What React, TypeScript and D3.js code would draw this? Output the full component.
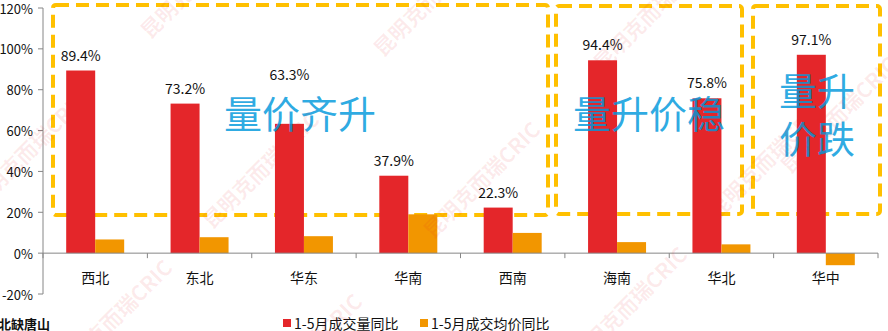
import React, { useEffect } from 'react';
import * as d3 from 'd3';

const categories = ['西北', '东北', '华东', '华南', '西南', '海南', '华北', '华中'];
const volumeYoY = [89.4, 73.2, 63.3, 37.9, 22.3, 94.4, 75.8, 97.1];
const priceYoY = [6.7, 7.8, 8.3, 19.0, 9.9, 5.4, 4.3, -5.9];
const yTicks = [-20, 0, 20, 40, 60, 80, 100, 120];
const seriesNames = ['1-5月成交量同比', '1-5月成交均价同比'];
const seriesColors = ['#E4262A', '#F29600'];
const footnote = '华北缺唐山';
const annotations = [
  { lines: ['量价齐升'], box: [53, 5, 548, 215], cx: 300, cy: [111] },
  { lines: ['量升价稳'], box: [556, 6, 742, 214], cx: 649, cy: [111] },
  { lines: ['量升', '价跌'], box: [753, 6, 880, 214], cx: 817, cy: [88, 136] },
];
// extra upward shift of a value label that would otherwise sit under an annotation
const labelLift: Record<string, number> = { 华东: 34 };
const watermarkText = '昆明克而瑞CRIC';
const watermarkPos = [
  [-20, 210], [150, 40], [212, 230], [433, 240], [383, 58], [65, 378],
  [603, 72], [718, 220], [255, 412], [580, 365], [790, 175],
];

const W = 888;
const H = 331;
const FONT = '"Noto Sans CJK SC", "Noto Sans", sans-serif';

export default function App() {
  useEffect(() => {
    document.body.style.margin = '0';
  }, []);

  const x = d3.scaleBand<string>().domain(categories).range([43, 878]).padding(0);
  const inner = d3
    .scaleBand<string>()
    .domain(['v', 'p'])
    .range([0, x.bandwidth()])
    .paddingInner(0)
    .paddingOuter(0.8);
  const y = d3.scaleLinear().domain([-20, 120]).range([294, 8]);
  const y0 = y(0);

  const boundaries = categories.map((c) => x(c)!).concat([x.range()[1]]);
  const legendX = [283, 420];

  return (
    <div style={{ position: 'absolute', left: 0, top: 0 }}>
      <svg width={W} height={H} style={{ display: 'block', fontFamily: FONT }}>
        <rect x={0} y={0} width={W} height={H} fill="#fff" />

        {/* dashed annotation boxes */}
        {annotations.map((a, i) => (
          <rect
            key={'box' + i}
            x={a.box[0]}
            y={a.box[1]}
            width={a.box[2] - a.box[0]}
            height={a.box[3] - a.box[1]}
            rx={3}
            fill="none"
            stroke="#FFC000"
            strokeWidth={4}
            strokeDasharray="13 7"
          />
        ))}

        {/* bars */}
        {categories.map((c, i) => {
          const bx = x(c)!;
          const v = volumeYoY[i];
          const p = priceYoY[i];
          return (
            <g key={c}>
              <rect
                x={bx + inner('v')!}
                y={Math.min(y(v), y0)}
                width={inner.bandwidth()}
                height={Math.abs(y(v) - y0)}
                fill={seriesColors[0]}
              />
              <rect
                x={bx + inner('p')!}
                y={Math.min(y(p), y0)}
                width={inner.bandwidth()}
                height={Math.abs(y(p) - y0)}
                fill={seriesColors[1]}
              />
              <text
                x={bx + inner('v')! + inner.bandwidth() / 2}
                y={y(v) - 16 - (labelLift[c] || 0)}
                textAnchor="middle"
                dominantBaseline="central"
                fontSize={14}
                fill="#111"
              >
                {v.toFixed(1) + '%'}
              </text>
              <text
                x={bx + x.bandwidth() / 2}
                y={277}
                textAnchor="middle"
                dominantBaseline="central"
                fontSize={14}
                fill="#111"
              >
                {c}
              </text>
            </g>
          );
        })}

        {/* axes */}
        <line x1={43} x2={43} y1={y(120)} y2={y(-20)} stroke="#868686" strokeWidth={1} />
        {yTicks.map((t) => (
          <g key={'yt' + t}>
            <line x1={38} x2={43} y1={y(t)} y2={y(t)} stroke="#868686" />
            <text
              x={33}
              y={y(t)}
              textAnchor="end"
              dominantBaseline="central"
              fontSize={13}
              fill="#111"
            >
              {t + '%'}
            </text>
          </g>
        ))}
        <line x1={43} x2={878} y1={y0} y2={y0} stroke="#868686" strokeWidth={1} />
        {boundaries.map((bx, i) => (
          <line key={'xt' + i} x1={bx} x2={bx} y1={y0} y2={y0 + 5} stroke="#868686" />
        ))}

        {/* annotation texts */}
        {annotations.map((a, i) =>
          a.lines.map((l, j) => (
            <text
              key={'at' + i + '-' + j}
              x={a.cx}
              y={a.cy[j]}
              textAnchor="middle"
              dominantBaseline="central"
              fontSize={38}
              fill="#0098DC"
              fillOpacity={0.82}
            >
              {l}
            </text>
          ))
        )}

        {/* legend */}
        {seriesNames.map((s, i) => (
          <g key={s}>
            <rect x={legendX[i]} y={319} width={8} height={8} fill={seriesColors[i]} />
            <text x={legendX[i] + 11} y={323} dominantBaseline="central" fontSize={14} fill="#111">
              {s}
            </text>
          </g>
        ))}

        {/* footnote */}
        <text x={-15} y={323} dominantBaseline="central" fontSize={13} fontWeight="bold" fill="#111">
          {footnote}
        </text>

        {/* watermark */}
        {watermarkPos.map(([wx, wy], i) => (
          <text
            key={'wm' + i}
            transform={`translate(${wx},${wy}) rotate(-45)`}
            fontSize={21}
            fontWeight="bold"
            fill="#E4262A"
            fillOpacity={0.09}
          >
            {watermarkText}
          </text>
        ))}
      </svg>
    </div>
  );
}
